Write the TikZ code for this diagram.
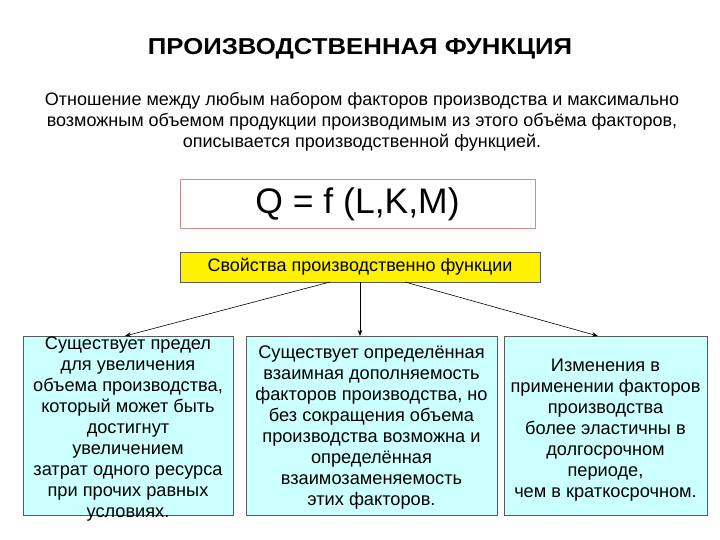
\documentclass[tikz,border=0pt]{standalone}
\usepackage{fontspec}
\setmainfont{Liberation Sans}
\usetikzlibrary{arrows.meta}
\definecolor{boxcyan}{RGB}{204,255,255}
\definecolor{boxedge}{RGB}{90,90,90}
\definecolor{pinkedge}{RGB}{210,140,140}
\tikzset{
  prop/.style={draw=boxedge, fill=boxcyan, line width=1pt, inner sep=0pt},
  proptext/.style={align=center, font=\fontsize{18.2}{21}\selectfont, inner sep=0pt},
  conn/.style={-{Stealth[length=6pt,width=4.5pt]}, line width=0.6pt, black},
}
\begin{document}
\begin{tikzpicture}[x=1pt,y=1pt]
\useasboundingbox (0,0) rectangle (720,-540);
\node[font=\fontsize{23}{27}\selectfont\bfseries, transform shape, xscale=1.12] (title) at (360,-49) {ПРОИЗВОДСТВЕННАЯ ФУНКЦИЯ};
\node[align=center, font=\fontsize{18}{21}\selectfont, inner sep=0pt] (def) at (362,-122) {Отношение между любым набором факторов производства и максимально\\возможным объемом продукции производимым из этого объёма факторов,\\описывается производственной функцией.};
\node[draw=pinkedge, line width=1pt, fill=white, minimum width=355pt, minimum height=49pt, inner sep=0pt, font=\fontsize{35.5}{40}\selectfont] (formula) at (357.5,-204.5) {Q = f (L,K,M)};
\node[draw=boxedge, fill=yellow, line width=1pt, minimum width=360pt, minimum height=30pt, inner sep=0pt, font=\fontsize{18}{21}\selectfont] (props) at (360,-267) {Свойства производственно функции};
\node[prop, minimum width=210pt, minimum height=179pt] (b1) at (128,-425.5) {};
\node[prop, minimum width=251pt, minimum height=179pt] (b2) at (371.5,-425.5) {};
\node[prop, minimum width=203pt, minimum height=179pt] (b3) at (605.5,-425.5) {};
\node[proptext] (t1) at (128,-429.5) {Существует предел\\для увеличения\\объема производства,\\который может быть\\достигнут\\увеличением\\затрат одного ресурса\\при прочих равных\\условиях.};
\node[proptext] (t2) at (371.5,-427.5) {Существует определённая\\ взаимная дополняемость\\факторов производства, но\\без сокращения объема\\производства возможна и\\определённая\\взаимозаменяемость\\этих факторов.};
\node[proptext] (t3) at (605.5,-430) {Изменения в\\применении факторов\\производства\\более эластичны в\\долгосрочном\\периоде,\\ чем в краткосрочном.};
\coordinate (s1) at (330,-282);
\coordinate (s2) at (360,-282);
\coordinate (s3) at (405,-282);
\coordinate (e1) at (125,-336);
\coordinate (e2) at (360,-336);
\coordinate (e3) at (598,-336);
\draw[conn] (s1) -- (e1);
\draw[conn] (s2) -- (e2);
\draw[conn] (s3) -- (e3);
\end{tikzpicture}
\end{document}
